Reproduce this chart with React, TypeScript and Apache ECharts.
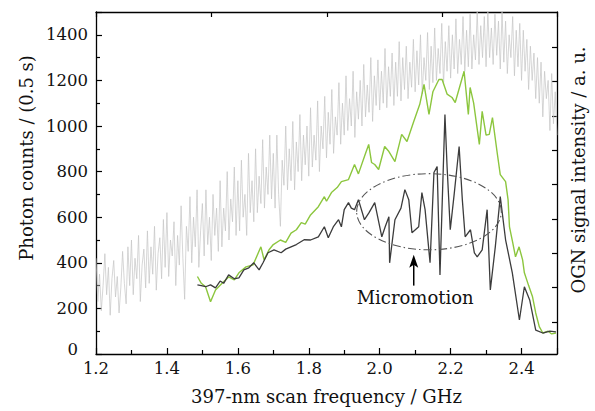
import React, { useEffect, useRef } from "react";
import * as echarts from "echarts";

// ---- axis ranges / ticks ----
const xMin = 1.2;
const xMax = 2.5;
const xStep = 0.2;
const yMin = 0;
const yMax = 1500;
const yStep = 200;
const topAxisMax = 3.99; // secondary (OGN) frequency axis, unlabeled
const rightAxisMax = 9.95; // OGN intensity, a.u., unlabeled
const rightTicks = [0.93, 1.93, 2.93, 3.93, 4.93, 5.93, 6.93, 7.93, 8.93];

// ---- OGN signal (light gray), sampled every 0.005 GHz from 1.200 ----
const grayStart = 1.2;
const grayStep = 0.005;
const grayY = [
  420, 230, 350, 190, 300, 440, 260, 380, 170, 330,
  410, 250, 340, 180, 290, 450, 310, 220, 470, 300,
  500, 260, 420, 330, 520, 230, 390, 460, 290, 540,
  310, 470, 350, 560, 280, 440, 510, 330, 590, 380,
  620, 340, 500, 430, 580, 300, 520, 390, 650, 420,
  240, 560, 450, 690, 400, 600, 470, 720, 380, 540,
  660, 430, 720, 480, 600, 410, 700, 520, 640, 450,
  760, 470, 640, 540, 800, 500, 680, 580, 820, 520,
  760, 540, 850, 600, 700, 520, 880, 620, 760, 580,
  900, 620, 780, 660, 940, 640, 820, 700, 960, 680,
  880, 640, 960, 700, 560, 850, 740, 1000, 720, 900,
  760, 1020, 720, 930, 800, 1050, 760, 960, 830, 1000,
  780, 1080, 820, 960, 850, 1110, 800, 1000, 900, 1130,
  860, 1060, 920, 1160, 880, 1040, 960, 1190, 920, 1100,
  960, 1220, 980, 1120, 1000, 1240, 950, 1150, 1030, 1200,
  1000, 1270, 1040, 1180, 1060, 1300, 1020, 1220, 1090, 1290,
  1070, 1240, 1100, 1340, 1080, 1260, 1130, 1320, 1090, 1280,
  1130, 1370, 1110, 1300, 1160, 1350, 1120, 1280, 1170, 1380,
  1150, 1330, 1180, 1400, 1140, 1300, 1200, 1410, 1160, 1350,
  1190, 1430, 1200, 1340, 1230, 1450, 1180, 1370, 1240, 1440,
  1210, 1400, 1250, 1470, 1230, 1380, 1270, 1480, 1240, 1420,
  1260, 1490, 1250, 1400, 1290, 1500, 1270, 1440, 1300, 1480,
  1260, 1500, 1300, 1430, 1270, 1490, 1310, 1460, 1250, 1500,
  1280, 1460, 1230, 1400, 1300, 1480, 1220, 1420, 1260, 1450,
  1200, 1420, 1240, 1380, 1160, 1350, 1200, 1320, 1120, 1300,
  1100, 1280, 1040, 1240, 1120, 1200, 980, 1230, 1010, 1150,
  960,
];

// ---- fluorescence, green trace ----
const greenX = [
  1.486, 1.497, 1.509, 1.523, 1.537, 1.557, 1.574, 1.59, 1.603, 1.623,
  1.643, 1.665, 1.674, 1.688, 1.7, 1.72, 1.735, 1.75, 1.765, 1.779,
  1.79, 1.805, 1.827, 1.844, 1.85, 1.864, 1.88, 1.892, 1.912, 1.929,
  1.94, 1.957, 1.969, 1.977, 1.986, 1.997, 2.014, 2.026, 2.043, 2.062,
  2.077, 2.096, 2.113, 2.125, 2.139, 2.15, 2.167, 2.176, 2.19, 2.204,
  2.213, 2.238, 2.25, 2.255, 2.265, 2.281, 2.289, 2.3, 2.309, 2.318,
  2.332, 2.34, 2.355, 2.362, 2.366, 2.375, 2.383, 2.393, 2.403, 2.408,
  2.42, 2.431, 2.44, 2.45, 2.46, 2.475, 2.485, 2.497,
];
const greenY = [
  340, 310, 295, 229, 281, 312, 338, 325, 356, 382,
  391, 470, 413, 457, 480, 500, 490, 530, 545, 576,
  570, 610, 646, 690, 670, 708, 730, 756, 765, 831,
  790, 866, 919, 840, 831, 809, 910, 888, 844, 963,
  932, 1020, 1095, 1183, 1051, 1150, 1204, 1204, 1140, 1125,
  1103, 1240, 1051, 1169, 1100, 919, 1064, 960, 963, 1037,
  875, 787, 756, 677, 558, 490, 426, 470, 413, 356,
  300, 251, 180, 120, 92, 100, 88, 92,
];

// ---- fluorescence, dark trace ----
const darkX = [
  1.486, 1.497, 1.509, 1.523, 1.537, 1.55, 1.56, 1.574, 1.59, 1.603,
  1.617, 1.631, 1.645, 1.66, 1.671, 1.685, 1.702, 1.722, 1.735, 1.75,
  1.765, 1.787, 1.805, 1.827, 1.844, 1.855, 1.87, 1.884, 1.892, 1.9,
  1.912, 1.92, 1.929, 1.94, 1.957, 1.97, 1.986, 2.006, 2.016, 2.026,
  2.028, 2.043, 2.06, 2.071, 2.082, 2.091, 2.11, 2.119, 2.128, 2.142,
  2.153, 2.162, 2.17, 2.184, 2.19, 2.199, 2.21, 2.224, 2.233, 2.241,
  2.256, 2.267, 2.275, 2.289, 2.303, 2.312, 2.326, 2.34, 2.355, 2.374,
  2.394, 2.408, 2.423, 2.44, 2.46, 2.48, 2.497,
];
const darkY = [
  303, 300, 295, 303, 290, 320, 310, 347, 330, 334,
  369, 378, 400, 369, 400, 444, 457, 444, 460, 470,
  480, 501, 500, 514, 558, 510, 560, 589, 558, 633,
  664, 640, 633, 677, 589, 620, 664, 514, 560, 602,
  400, 589, 640, 721, 677, 532, 558, 708, 633, 400,
  796, 822, 347, 1050, 822, 545, 700, 910, 677, 514,
  545, 444, 426, 457, 633, 281, 470, 690, 501, 356,
  149, 295, 237, 105, 92, 100, 97,
];

// ---- annotation (data coordinates) ----
const ellipseCenter = [2.139, 624];
const ellipseRadius = [0.204, 167];
const arrowTail = [2.096, 300];
const arrowTip = [2.096, 435];
const labelPos = [2.1, 246];
const labelText = "Micromotion";

const FONT = "DejaVu Serif";

export default function App() {
  const ref = useRef<HTMLDivElement>(null);

  useEffect(() => {
    if (!ref.current) return;
    const chart = echarts.init(ref.current, undefined, { renderer: "svg" });

    const axisLine = { show: true, onZero: false, lineStyle: { color: "#000", width: 1.3 } };
    const tickStyle = { color: "#000", width: 1.2 };

    const option: any = {
      animation: false,
      backgroundColor: "#fff",
      grid: { left: 96, right: 37, top: 12, bottom: 57 },
      xAxis: [
        {
          type: "value",
          position: "bottom",
          min: xMin,
          max: xMax,
          interval: xStep,
          axisLine,
          axisTick: { show: true, inside: true, length: 6, lineStyle: tickStyle },
          minorTick: { show: true, splitNumber: 2, length: 4, lineStyle: tickStyle },
          splitLine: { show: false },
          axisLabel: {
            color: "#111",
            fontFamily: FONT,
            fontSize: 16.5,
            margin: 6,
            showMaxLabel: false,
            formatter: (v: number) => v.toFixed(1),
          },
          name: "397-nm scan frequency / GHz",
          nameLocation: "middle",
          nameGap: 33,
          nameTextStyle: { fontFamily: FONT, fontSize: 18, color: "#111" },
        },
        {
          type: "value",
          position: "top",
          min: 0,
          max: topAxisMax,
          interval: 1,
          axisLine,
          axisTick: { show: true, inside: true, length: 5, lineStyle: tickStyle },
          axisLabel: { show: false },
          splitLine: { show: false },
        },
      ],
      yAxis: [
        {
          type: "value",
          position: "left",
          min: yMin,
          max: yMax,
          interval: yStep,
          axisLine,
          axisTick: { show: true, inside: true, length: 6, lineStyle: tickStyle },
          minorTick: { show: true, splitNumber: 2, length: 4, lineStyle: tickStyle },
          splitLine: { show: false },
          axisLabel: {
            color: "#111",
            fontFamily: FONT,
            fontSize: 16.5,
            margin: 8,
            showMaxLabel: false,
            formatter: (v: number) => (v === 0 ? "{z|0}" : String(v)),
            rich: {
              z: { fontFamily: FONT, fontSize: 16.5, color: "#111", padding: [0, 10, 10, 0] },
            },
          },
          name: "Photon counts / (0.5 s)",
          nameLocation: "middle",
          nameRotate: 90,
          nameGap: 52,
          nameTextStyle: { fontFamily: FONT, fontSize: 18, color: "#111", padding: [0, 0, 0, 50] },
        },
        {
          type: "value",
          position: "right",
          min: 0,
          max: rightAxisMax,
          axisLine,
          axisTick: { show: true, inside: true, length: 5, lineStyle: tickStyle, customValues: rightTicks },
          axisLabel: { show: false },
          splitLine: { show: false },
          name: "OGN signal intensity / a. u.",
          nameLocation: "middle",
          nameRotate: 90,
          nameGap: 12,
          nameTextStyle: { fontFamily: FONT, fontSize: 18, color: "#111", padding: [0, 0, 0, 26] },
        },
      ],
      series: [
        {
          type: "line",
          xAxisIndex: 0,
          yAxisIndex: 0,
          data: grayY.map((y, i) => [grayStart + i * grayStep, y]),
          showSymbol: false,
          symbol: "none",
          silent: true,
          lineStyle: { color: "#c4c4c4", width: 0.7 },
          z: 1,
        },
        {
          type: "line",
          xAxisIndex: 0,
          yAxisIndex: 0,
          data: greenX.map((x, i) => [x, greenY[i]]),
          showSymbol: false,
          symbol: "none",
          silent: true,
          lineStyle: { color: "#8cc63e", width: 1.4 },
          z: 2,
        },
        {
          type: "line",
          xAxisIndex: 0,
          yAxisIndex: 0,
          data: darkX.map((x, i) => [x, darkY[i]]),
          showSymbol: false,
          symbol: "none",
          silent: true,
          lineStyle: { color: "#3c3c3c", width: 1.3 },
          z: 3,
        },
        {
          type: "custom",
          xAxisIndex: 0,
          yAxisIndex: 0,
          silent: true,
          z: 4,
          data: [ellipseCenter],
          renderItem: (_params: any, api: any) => {
            const c = api.coord(ellipseCenter);
            const e = api.coord([ellipseCenter[0] + ellipseRadius[0], ellipseCenter[1] + ellipseRadius[1]]);
            const rx = Math.abs(e[0] - c[0]);
            const ry = Math.abs(c[1] - e[1]);
            const tail = api.coord(arrowTail);
            const tip = api.coord(arrowTip);
            const lp = api.coord(labelPos);
            return {
              type: "group",
              children: [
                {
                  type: "ellipse",
                  shape: { cx: c[0], cy: c[1], rx, ry },
                  style: { fill: "none", stroke: "#555", lineWidth: 1.1, lineDash: [8, 3, 1.5, 3] },
                },
                {
                  type: "line",
                  shape: { x1: tail[0], y1: tail[1], x2: tip[0], y2: tip[1] + 8 },
                  style: { stroke: "#000", lineWidth: 1.5 },
                },
                {
                  type: "polygon",
                  shape: {
                    points: [
                      [tip[0], tip[1]],
                      [tip[0] - 4.5, tip[1] + 13],
                      [tip[0], tip[1] + 10],
                      [tip[0] + 4.5, tip[1] + 13],
                    ],
                  },
                  style: { fill: "#000" },
                },
                {
                  type: "text",
                  x: lp[0],
                  y: lp[1],
                  style: {
                    text: labelText,
                    fill: "#111",
                    fontFamily: FONT,
                    fontSize: 18,
                    align: "center",
                    verticalAlign: "middle",
                  },
                },
              ],
            };
          },
        },
      ],
    };

    chart.setOption(option);
    return () => chart.dispose();
  }, []);

  return (
    <div
      ref={ref}
      style={{ position: "absolute", left: 0, top: 0, width: 595, height: 411 }}
    />
  );
}
